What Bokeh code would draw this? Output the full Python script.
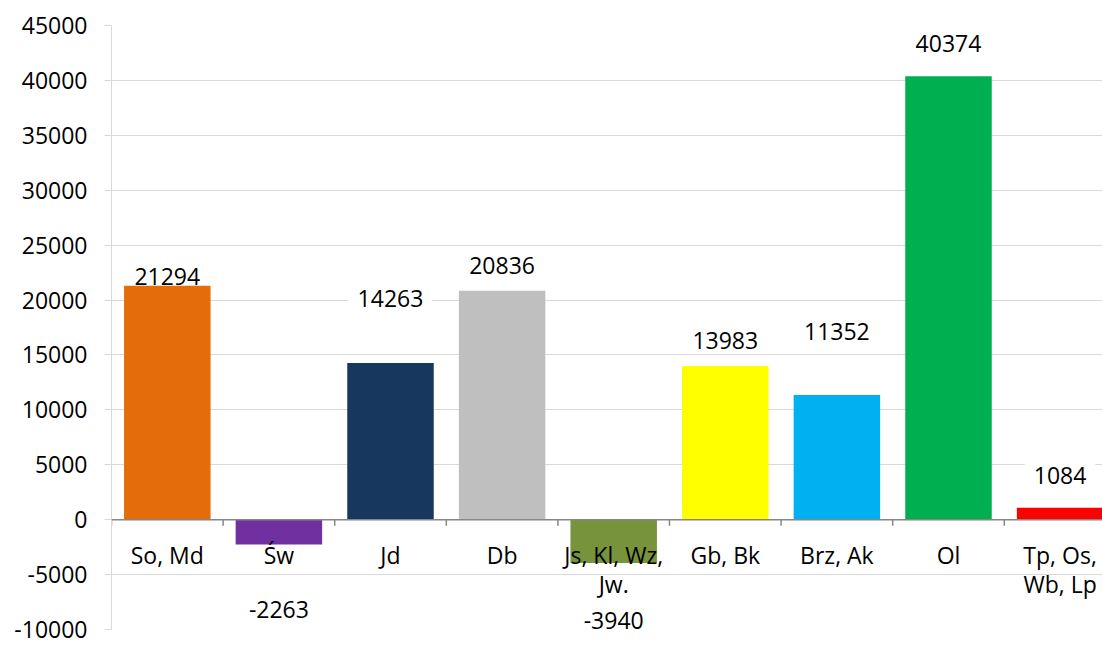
from bokeh.plotting import figure
from bokeh.models import (ColumnDataSource, Range1d, SingleIntervalTicker,
                          NumeralTickFormatter, Span)
from bokeh.core.properties import value
from bokeh.embed import file_html
from bokeh.resources import INLINE

# ---- data ----
categories = ["So, Md", "Św", "Jd", "Db", "Js, Kl, Wz,\nJw.", "Gb, Bk", "Brz, Ak", "Ol", "Tp, Os,\nWb, Lp"]
values = [21294, -2263, 14263, 20836, -3940, 13983, 11352, 40374, 1084]
colors = ["#E46C0A", "#7030A0", "#17375E", "#BFBFBF", "#77933C", "#FFFF00", "#00B0F0", "#00B050", "#FF0000"]
# data-label positions (value units), as placed in the original chart
label_y = [22210, -8090, 20230, 23230, -9080, 16390, 17240, 43460, 4140]

FONT = "Open Sans"
FS = "23px"
W, H = 1102, 646
TOP, BOTTOM, LEFT = 25, 17, 111
YMIN, YMAX = -10000, 45000

idx = list(range(len(categories)))
src = ColumnDataSource(dict(x=idx, top=values, color=colors, cat=categories,
                            ly=label_y, lbl=[str(v) for v in values]))

p = figure(width=W, height=H, output_backend="svg", toolbar_location=None,
           x_range=Range1d(-0.5, 8.38), y_range=Range1d(YMIN, YMAX),
           x_axis_location=None, min_border_left=LEFT, min_border_right=0,
           min_border_top=TOP, min_border_bottom=BOTTOM)
p.outline_line_color = None
p.xgrid.visible = False
p.ygrid.grid_line_color = "#d9d9d9"
p.ygrid.grid_line_width = 1
p.ygrid.ticker = SingleIntervalTicker(interval=5000, num_minor_ticks=0)

yax = p.yaxis[0]
yax.ticker = SingleIntervalTicker(interval=5000, num_minor_ticks=0)
yax.formatter = NumeralTickFormatter(format="0")
yax.axis_line_color = "#d9d9d9"
yax.major_tick_line_color = "#d9d9d9"
yax.major_tick_out = 7
yax.major_tick_in = 0
yax.minor_tick_line_color = None
yax.major_label_standoff = 17
yax.major_label_text_font = FONT
yax.major_label_text_font_size = FS
yax.major_label_text_color = "#000000"

# data labels with white boxes (drawn before the bars so bars stay on top)
p.text(x="x", y="ly", text="lbl", source=src, text_align="center", text_baseline="middle",
       text_font=value(FONT), text_font_size=FS, text_color="#000000",
       background_fill_color="white", padding=dict(left=9, right=9, top=5, bottom=3))

p.vbar(x="x", top="top", bottom=0, width=0.775, fill_color="color", line_color=None, source=src)

# category axis line at zero with tick marks at category boundaries
frame_h = H - TOP - BOTTOM
tick_len = 6 * (YMAX - YMIN) / frame_h
bounds = [i - 0.5 for i in range(len(categories) + 1)]
p.segment(x0=bounds, y0=[0] * len(bounds), x1=bounds, y1=[-tick_len] * len(bounds),
          line_color="#868686", line_width=1.5)
p.add_layout(Span(location=0, dimension="width", line_color="#868686", line_width=1.5))

# category labels
p.text(x="x", y=0, text="cat", source=src, text_align="center", text_baseline="top",
       y_offset=19, text_font=value(FONT), text_font_size=FS, text_color="#000000",
       text_line_height=0.93)

open("out.html", "w").write(file_html(p, INLINE))
